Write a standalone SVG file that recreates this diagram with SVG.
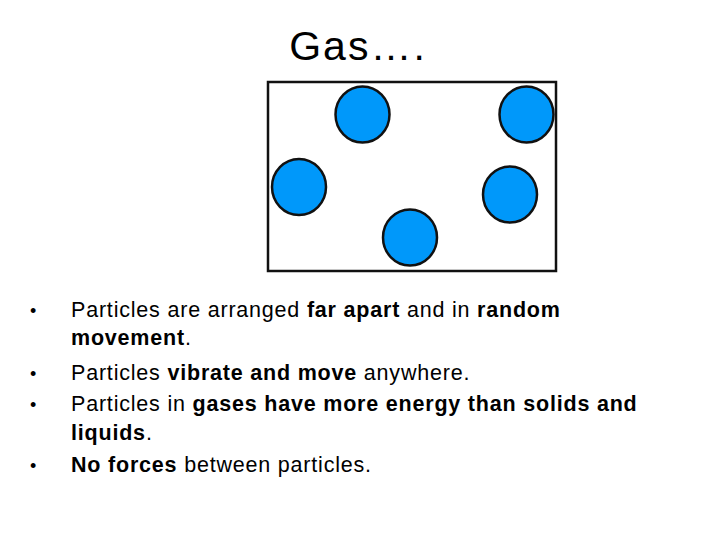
<svg xmlns="http://www.w3.org/2000/svg" width="728" height="546" viewBox="0 0 728 546">
<style>
.p{fill:#0098fa;stroke:#111;stroke-width:2.5}
text{font-family:"Liberation Sans",Arial,sans-serif;fill:#000}
.b{font-size:21.5px;letter-spacing:0.8px}
.bd{font-weight:bold}
.dot{font-size:18px}
</style>
<rect width="728" height="546" fill="#fff"/>
<text x="358" y="60" font-size="41" letter-spacing="2" text-anchor="middle">Gas….</text>
<g id="box"><rect x="268" y="82" width="288" height="189" fill="none" stroke="#111" stroke-width="2.5"/></g>
<g id="p1"><ellipse class="p" cx="362.5" cy="114.5" rx="27" ry="28"/></g>
<g id="p2"><ellipse class="p" cx="526.5" cy="114.5" rx="27" ry="28"/></g>
<g id="p3"><ellipse class="p" cx="299" cy="187" rx="27" ry="28"/></g>
<g id="p4"><ellipse class="p" cx="510" cy="194.5" rx="27" ry="28"/></g>
<g id="p5"><ellipse class="p" cx="410" cy="237.5" rx="27" ry="28"/></g>
<g id="connectors"/>
<g class="b">
<text class="dot" x="30" y="317">•</text>
<text x="71" y="317">Particles are arranged <tspan class="bd">far apart</tspan> and in <tspan class="bd">random</tspan></text>
<text x="71" y="345"><tspan class="bd">movement</tspan>.</text>
<text class="dot" x="30" y="380">•</text>
<text x="71" y="380">Particles <tspan class="bd">vibrate and move</tspan> anywhere.</text>
<text class="dot" x="30" y="411">•</text>
<text x="71" y="411">Particles in <tspan class="bd">gases have more energy than solids and</tspan></text>
<text x="71" y="440"><tspan class="bd">liquids</tspan>.</text>
<text class="dot" x="30" y="472">•</text>
<text x="71" y="472"><tspan class="bd">No forces</tspan> between particles.</text>
</g>
</svg>
